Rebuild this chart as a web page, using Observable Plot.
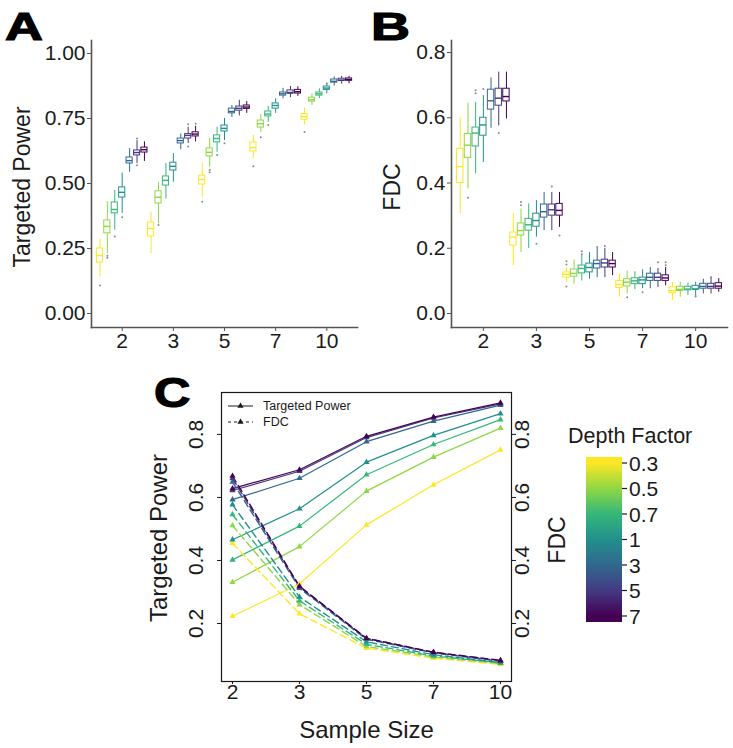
<!DOCTYPE html>
<html>
<head>
<meta charset="utf-8">
<script src="https://cdn.jsdelivr.net/npm/d3@7"></script>
<script src="https://cdn.jsdelivr.net/npm/@observablehq/plot@0.6"></script>
<style>
  body { margin: 0; background: #fff; }
  #fig { position: relative; width: 733px; height: 748px; background: #fff; overflow: hidden;
         font-family: "Liberation Sans", Arial, Helvetica, sans-serif; }
</style>
</head>
<body>
<div id="fig"></div>
<script>
// ---- categories ----
const sampleSizes = ["2", "3", "5", "7", "10"];
const depthFactors = ["0.3", "0.5", "0.7", "1", "3", "5", "7"];
const depthColors = ["#FDE725", "#8FD744", "#35B779", "#21908C", "#31688E", "#443A83", "#440154"];

// ---- A: targeted power box statistics (rows: sample size, cols: depth factor) ----
const tpMedian = [
  [0.223, 0.335, 0.400, 0.466, 0.588, 0.619, 0.630],
  [0.327, 0.447, 0.512, 0.566, 0.665, 0.685, 0.690],
  [0.515, 0.620, 0.673, 0.712, 0.777, 0.789, 0.794],
  [0.638, 0.730, 0.767, 0.800, 0.845, 0.850, 0.853],
  [0.757, 0.822, 0.845, 0.867, 0.893, 0.898, 0.900]
];
const tpQ1 = [
  [0.196, 0.308, 0.385, 0.446, 0.577, 0.608, 0.619],
  [0.296, 0.423, 0.492, 0.550, 0.654, 0.673, 0.681],
  [0.496, 0.604, 0.658, 0.700, 0.770, 0.780, 0.787],
  [0.623, 0.715, 0.758, 0.788, 0.838, 0.845, 0.846],
  [0.745, 0.815, 0.838, 0.860, 0.888, 0.894, 0.895]
];
const tpQ3 = [
  [0.250, 0.358, 0.427, 0.485, 0.600, 0.627, 0.638],
  [0.350, 0.470, 0.527, 0.580, 0.673, 0.690, 0.697],
  [0.530, 0.635, 0.685, 0.723, 0.788, 0.796, 0.800],
  [0.658, 0.742, 0.777, 0.808, 0.850, 0.858, 0.860],
  [0.767, 0.830, 0.850, 0.873, 0.900, 0.903, 0.904]
];
const tpLow = [
  [0.140, 0.230, 0.320, 0.385, 0.543, 0.577, 0.585],
  [0.230, 0.345, 0.440, 0.505, 0.630, 0.654, 0.660],
  [0.447, 0.562, 0.620, 0.665, 0.754, 0.760, 0.770],
  [0.596, 0.697, 0.735, 0.770, 0.826, 0.830, 0.835],
  [0.725, 0.800, 0.826, 0.845, 0.875, 0.882, 0.884]
];
const tpHigh = [
  [0.285, 0.430, 0.473, 0.540, 0.634, 0.665, 0.660],
  [0.390, 0.505, 0.577, 0.615, 0.690, 0.716, 0.720],
  [0.577, 0.673, 0.716, 0.750, 0.800, 0.820, 0.815],
  [0.685, 0.765, 0.796, 0.826, 0.866, 0.873, 0.872],
  [0.790, 0.845, 0.864, 0.885, 0.910, 0.912, 0.912]
];
// [sample size index, depth index, value]
const tpOutliers = [
  [0, 0, 0.108], [0, 1, 0.222], [0, 1, 0.214], [0, 2, 0.296], [0, 3, 0.370],
  [0, 5, 0.673], [0, 5, 0.570], [1, 1, 0.340], [1, 5, 0.728], [1, 5, 0.642],
  [1, 6, 0.730], [2, 0, 0.430], [2, 1, 0.552], [2, 1, 0.543], [2, 2, 0.610],
  [2, 3, 0.655], [3, 0, 0.566], [3, 1, 0.678], [3, 2, 0.725], [4, 0, 0.698],
  [4, 3, 0.885]
];

// ---- B: FDC box statistics ----
const fdcMedian = [
  [0.450, 0.516, 0.553, 0.578, 0.652, 0.660, 0.665],
  [0.234, 0.254, 0.272, 0.285, 0.312, 0.318, 0.316],
  [0.120, 0.123, 0.138, 0.141, 0.153, 0.155, 0.153],
  [0.089, 0.096, 0.100, 0.103, 0.111, 0.111, 0.109],
  [0.070, 0.074, 0.075, 0.075, 0.083, 0.083, 0.084]
];
const fdcQ1 = [
  [0.400, 0.477, 0.512, 0.545, 0.625, 0.637, 0.650],
  [0.208, 0.239, 0.254, 0.266, 0.294, 0.300, 0.300],
  [0.110, 0.113, 0.123, 0.126, 0.138, 0.141, 0.141],
  [0.078, 0.083, 0.090, 0.090, 0.100, 0.100, 0.100],
  [0.062, 0.069, 0.071, 0.073, 0.076, 0.076, 0.076]
];
const fdcQ3 = [
  [0.505, 0.550, 0.570, 0.600, 0.686, 0.689, 0.689],
  [0.248, 0.276, 0.290, 0.306, 0.334, 0.334, 0.336],
  [0.126, 0.135, 0.147, 0.153, 0.162, 0.165, 0.162],
  [0.100, 0.105, 0.108, 0.110, 0.122, 0.122, 0.117],
  [0.080, 0.082, 0.082, 0.085, 0.091, 0.091, 0.093]
];
const fdcLow = [
  [0.306, 0.382, 0.428, 0.463, 0.568, 0.575, 0.596],
  [0.147, 0.187, 0.199, 0.234, 0.254, 0.254, 0.264],
  [0.095, 0.090, 0.100, 0.105, 0.110, 0.110, 0.116],
  [0.050, 0.060, 0.073, 0.076, 0.076, 0.080, 0.085],
  [0.040, 0.050, 0.055, 0.050, 0.060, 0.060, 0.065]
];
const fdcHigh = [
  [0.600, 0.645, 0.647, 0.668, 0.722, 0.740, 0.740],
  [0.306, 0.320, 0.336, 0.346, 0.371, 0.371, 0.371],
  [0.141, 0.164, 0.178, 0.187, 0.200, 0.200, 0.187],
  [0.122, 0.130, 0.128, 0.134, 0.141, 0.138, 0.141],
  [0.096, 0.096, 0.093, 0.096, 0.105, 0.111, 0.107]
];
const fdcOutliers = [
  [0, 1, 0.355], [0, 2, 0.675], [0, 2, 0.684], [0, 3, 0.688], [0, 5, 0.553],
  [1, 1, 0.342], [1, 1, 0.332], [1, 3, 0.214], [1, 5, 0.389], [1, 6, 0.239],
  [2, 0, 0.160], [2, 0, 0.150], [2, 0, 0.083], [2, 2, 0.182], [2, 2, 0.191],
  [2, 4, 0.204], [2, 5, 0.207], [3, 1, 0.050], [3, 3, 0.065], [3, 5, 0.157],
  [3, 6, 0.157], [3, 6, 0.148], [4, 5, 0.111], [4, 3, 0.052]
];

// ---- C: summary curves (rows: depth factor, cols: sample size) ----
const tpCurve = [
  [0.223, 0.326, 0.513, 0.640, 0.751],
  [0.331, 0.444, 0.620, 0.728, 0.820],
  [0.402, 0.509, 0.672, 0.768, 0.847],
  [0.466, 0.564, 0.712, 0.797, 0.866],
  [0.593, 0.661, 0.777, 0.842, 0.893],
  [0.622, 0.683, 0.790, 0.852, 0.897],
  [0.628, 0.688, 0.794, 0.855, 0.900]
];
const fdcCurve = [
  [0.455, 0.231, 0.122, 0.090, 0.070],
  [0.511, 0.260, 0.127, 0.094, 0.073],
  [0.546, 0.272, 0.134, 0.097, 0.075],
  [0.577, 0.284, 0.142, 0.101, 0.076],
  [0.649, 0.312, 0.150, 0.107, 0.080],
  [0.660, 0.316, 0.153, 0.108, 0.082],
  [0.668, 0.318, 0.153, 0.109, 0.083]
];

// ---- drawing ----
const FONT = '"Liberation Sans", Arial, Helvetica, sans-serif';
const INK = "#1a1a1a";
const AXIS = "#555";
const fig = document.getElementById("fig");
const DODGE = 0.145, HALF = 0.06;
const colorScale = {type: "ordinal", domain: depthFactors, range: depthColors};
const centered = {textAnchor: "middle", lineAnchor: "middle"};

function boxRows(med, q1, q3, lo, hi) {
  const rows = [];
  sampleSizes.forEach((s, g) => depthFactors.forEach((d, k) => {
    rows.push({x: g + (k - 3) * DODGE, depth: d, med: med[g][k], q1: q1[g][k], q3: q3[g][k], lo: lo[g][k], hi: hi[g][k]});
  }));
  return rows;
}
const outlierRows = list => list.map(([g, k, v]) => ({x: g + (k - 3) * DODGE, v}));

function place(el, left, top) {
  el.style.position = "absolute";
  el.style.left = left + "px";
  el.style.top = top + "px";
  fig.appendChild(el);
}

function boxPanel({rows, outliers, yDomain, yTicks, yFormat, title, titleDx, width, marginLeft, marginRight}) {
  return Plot.plot({
    width, height: 365,
    marginLeft, marginRight, marginTop: 40, marginBottom: 38,
    style: {fontFamily: FONT, fontSize: "21px", color: INK, background: "transparent", overflow: "visible"},
    x: {domain: [-0.6, 4.6]},
    y: {domain: yDomain},
    color: colorScale,
    marks: [
      Plot.frame({anchor: "left", stroke: AXIS, strokeWidth: 1.6}),
      Plot.frame({anchor: "bottom", stroke: AXIS, strokeWidth: 1.6}),
      Plot.axisX({ticks: [0, 1, 2, 3, 4], tickFormat: i => sampleSizes[i], tickSize: 4, tickPadding: 2, label: null, stroke: AXIS, fill: INK}),
      Plot.axisY({ticks: yTicks, tickFormat: yFormat, tickSize: 4, tickPadding: 2, label: null, stroke: AXIS, fill: INK}),
      Plot.ruleX(rows, {x: "x", y1: "q3", y2: "hi", stroke: "depth", strokeWidth: 1}),
      Plot.ruleX(rows, {x: "x", y1: "lo", y2: "q1", stroke: "depth", strokeWidth: 1}),
      Plot.rect(rows, {x1: r => r.x - HALF, x2: r => r.x + HALF, y1: "q1", y2: "q3", fill: "white", stroke: "depth", strokeWidth: 1}),
      Plot.ruleY(rows, {y: "med", x1: r => r.x - HALF, x2: r => r.x + HALF, stroke: "depth", strokeWidth: 1.4}),
      Plot.dot(outliers, {x: "x", y: "v", r: 1, fill: "#8a8a8a"}),
      Plot.text([title], {text: d => d, frameAnchor: "left", dx: titleDx, dy: 3, rotate: -90, fontSize: 23, ...centered})
    ]
  });
}

// Panel A: targeted power by sample size
place(boxPanel({
  rows: boxRows(tpMedian, tpQ1, tpQ3, tpLow, tpHigh),
  outliers: outlierRows(tpOutliers),
  yDomain: [-0.054, 1.05], yTicks: [0, 0.25, 0.5, 0.75, 1], yFormat: d => d.toFixed(2),
  title: "Targeted Power", titleDx: -69, width: 365, marginLeft: 91, marginRight: 8
}), 0, 0);

// Panel B: FDC by sample size
place(boxPanel({
  rows: boxRows(fdcMedian, fdcQ1, fdcQ3, fdcLow, fdcHigh),
  outliers: outlierRows(fdcOutliers),
  yDomain: [-0.0429, 0.8368], yTicks: [0, 0.2, 0.4, 0.6, 0.8], yFormat: d => d.toFixed(1),
  title: "FDC", titleDx: -59, width: 368, marginLeft: 86, marginRight: 6
}), 365, 0);

// Panel C: both metrics against sample size, one curve per depth factor
const curveRows = [];
depthFactors.forEach((d, k) => sampleSizes.forEach((s, g) => {
  curveRows.push({i: g, depth: d, metric: "tp", v: tpCurve[k][g]});
  curveRows.push({i: g, depth: d, metric: "fdc", v: fdcCurve[k][g]});
}));
const tpRows = curveRows.filter(r => r.metric === "tp");
const fdcRows = curveRows.filter(r => r.metric === "fdc");
const cTicks = [0.2, 0.4, 0.6, 0.8];

const panelC = Plot.plot({
  width: 450, height: 378,
  marginLeft: 81, marginRight: 79, marginTop: 22, marginBottom: 67,
  style: {fontFamily: FONT, fontSize: "21px", color: INK, background: "transparent", overflow: "visible"},
  x: {domain: [-0.164, 4.164]},
  y: {domain: [0.016, 0.933]},
  color: colorScale,
  marks: [
    Plot.frame({stroke: INK, strokeWidth: 1.2}),
    Plot.axisX({ticks: [0, 1, 2, 3, 4], tickFormat: i => sampleSizes[i], tickSize: 3, tickPadding: 0, label: null, fontSize: 21}),
    Plot.axisY({anchor: "left", ticks: cTicks, tickFormat: () => "", tickSize: 4, label: null}),
    Plot.axisY({anchor: "right", ticks: cTicks, tickFormat: () => "", tickSize: 4, label: null}),
    Plot.text(cTicks, {y: d => d, text: d => d.toFixed(1), frameAnchor: "left", dx: -25.5, rotate: -90, fontSize: 21, ...centered}),
    Plot.text(cTicks, {y: d => d, text: d => d.toFixed(1), frameAnchor: "right", dx: 11, rotate: -90, fontSize: 21, ...centered}),
    Plot.line(tpRows, {x: "i", y: "v", z: "depth", stroke: "depth", strokeWidth: 1.2}),
    Plot.line(fdcRows, {x: "i", y: "v", z: "depth", stroke: "depth", strokeWidth: 1.4, strokeDasharray: "7,4"}),
    Plot.dot(curveRows, {x: "i", y: "v", fill: "depth", symbol: "triangle", r: 2.3}),
    Plot.text(["Sample Size"], {text: d => d, frameAnchor: "bottom", dy: 49, fontSize: 24, ...centered}),
    Plot.text(["Targeted Power"], {text: d => d, frameAnchor: "left", dx: -62, dy: 1, rotate: -90, fontSize: 24, ...centered}),
    Plot.text(["FDC"], {text: d => d, frameAnchor: "right", dx: 46, dy: 3, rotate: -90, fontSize: 23, ...centered})
  ]
});
place(panelC, 140, 370);

// Overlay: panel tags, metric key inside C, depth factor colour bar
const overlay = d3.create("svg")
  .attr("width", 733).attr("height", 748)
  .style("position", "absolute").style("left", "0px").style("top", "0px")
  .style("font-family", FONT).style("pointer-events", "none");

[["A", 5, 40, 38, 1.38], ["B", 371, 40, 38, 1.42], ["C", 154, 407, 42, 1.2]].forEach(([t, x, y, size, sx]) => {
  overlay.append("text")
    .attr("transform", `translate(${x},${y}) scale(${sx},1)`)
    .attr("font-size", size).attr("font-weight", "bold")
    .attr("fill", "#000").attr("stroke", "#000").attr("stroke-width", 1.2)
    .text(t);
});

// metric key
const triangle = d3.symbol(d3.symbolTriangle, Math.PI * 2.3 * 2.3);
const key = overlay.append("g").attr("fill", INK);
[["Targeted Power", null, 406], ["FDC", "3,3", 422]].forEach(([label, dash, y]) => {
  key.append("line").attr("x1", 228).attr("x2", 253).attr("y1", y).attr("y2", y)
    .attr("stroke", INK).attr("stroke-width", 1).attr("stroke-dasharray", dash);
  key.append("path").attr("d", triangle()).attr("transform", `translate(240.5,${y})`);
  key.append("text").attr("x", 263).attr("y", y).attr("dy", "0.35em")
    .attr("font-size", 12.5).text(label);
});

// colour bar
const barX = 586, barY = 457, barW = 36, barH = 165, firstTick = 6, tickStep = 25.5;
const grad = overlay.append("defs").append("linearGradient")
  .attr("id", "depthRamp").attr("x1", 0).attr("y1", 0).attr("x2", 0).attr("y2", 1);
depthFactors.forEach((d, k) => {
  grad.append("stop").attr("offset", (firstTick + k * tickStep) / barH).attr("stop-color", depthColors[k]);
});
overlay.append("text").attr("x", 568).attr("y", 443).attr("font-size", 21.5).attr("fill", INK).text("Depth Factor");
overlay.append("rect").attr("x", barX).attr("y", barY).attr("width", barW).attr("height", barH).attr("fill", "url(#depthRamp)");
depthFactors.forEach((d, k) => {
  const y = barY + firstTick + k * tickStep;
  overlay.append("line").attr("x1", barX + barW).attr("x2", barX + barW + 5).attr("y1", y).attr("y2", y)
    .attr("stroke", INK).attr("stroke-width", 1.2);
  overlay.append("text").attr("x", barX + barW + 7).attr("y", y).attr("dy", "0.36em")
    .attr("font-size", 21).attr("fill", INK).text(d);
});

fig.appendChild(overlay.node());
</script>
</body>
</html>
